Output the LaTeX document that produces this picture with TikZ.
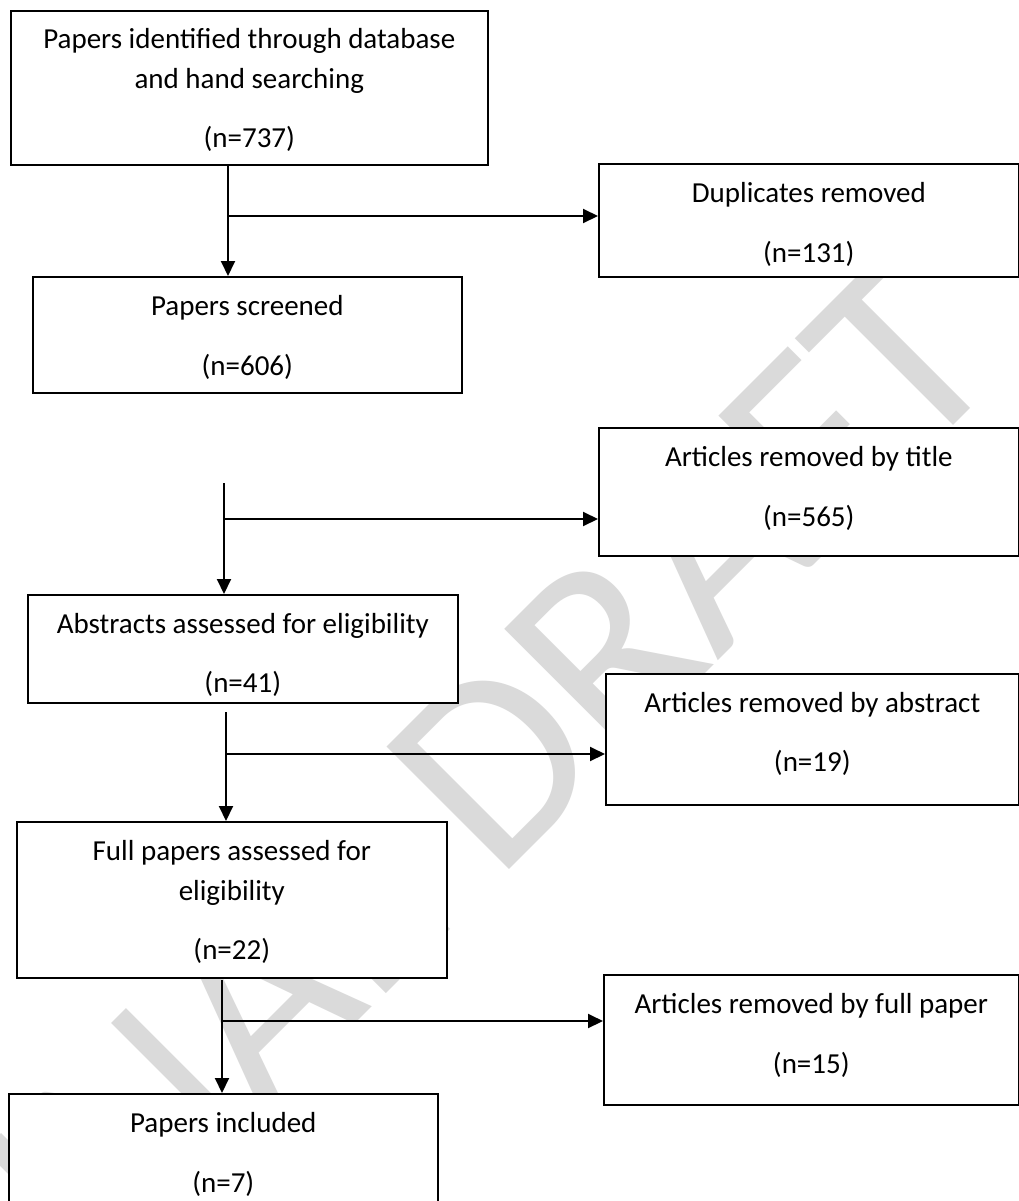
\documentclass[tikz,border=0pt]{standalone}
\usepackage{fontspec}
\setmainfont{Carlito}
\usetikzlibrary{arrows.meta}
\definecolor{wmgray}{HTML}{DADADA}
\begin{document}
\begin{tikzpicture}[x=1pt,y=-1pt,
  box/.style={draw=black, line width=1.6pt, fill=white, inner sep=0pt, anchor=north west},
  txt/.style={anchor=base, inner sep=0pt, font=\fontsize{29}{35}\selectfont},
  arr/.style={line width=2pt, -{Triangle[length=15pt,width=14pt]}},
  wmark/.style={rotate=45, text=wmgray, inner sep=0pt, font=\fontsize{270}{270}\selectfont}]
\useasboundingbox (0,0) rectangle (1019,1201);
\clip (0,0) rectangle (1019,1201);
\fill[white] (0,0) rectangle (1019,1201);
% watermark
\node[wmark] (wm) at (445,812) {FINAL DRAFT};
% boxes
\node[box, minimum width=477pt, minimum height=154pt] (b1) at (10,10) {};
\node[box, minimum width=420pt, minimum height=113pt] (d1) at (598,163) {};
\node[box, minimum width=429pt, minimum height=116pt] (b2) at (32,276) {};
\node[box, minimum width=420pt, minimum height=128pt] (t1) at (598,427) {};
\node[box, minimum width=430pt, minimum height=108pt] (b3) at (27,594) {};
\node[box, minimum width=413pt, minimum height=131pt] (a1) at (605,673) {};
\node[box, minimum width=430pt, minimum height=156pt] (b4) at (16,821) {};
\node[box, minimum width=415pt, minimum height=130pt] (f1) at (603,974) {};
\node[box, minimum width=429pt, minimum height=140pt] (b5) at (8,1093) {};
% texts
\node[txt] (b1a) at ([yshift=-39pt]b1.north) {Papers identified through database};
\node[txt] (b1b) at ([yshift=-79pt]b1.north) {and hand searching};
\node[txt] (b1c) at ([yshift=-138pt]b1.north) {(n=737)};
\node[txt] (d1a) at ([yshift=-39pt]d1.north) {Duplicates removed};
\node[txt] (d1b) at ([yshift=-99pt]d1.north) {(n=131)};
\node[txt] (b2a) at ([yshift=-39pt]b2.north) {Papers screened};
\node[txt] (b2b) at ([yshift=-99pt]b2.north) {(n=606)};
\node[txt] (t1a) at ([yshift=-39pt]t1.north) {Articles removed by title};
\node[txt] (t1b) at ([yshift=-99pt]t1.north) {(n=565)};
\node[txt] (b3a) at ([yshift=-39pt]b3.north) {Abstracts assessed for eligibility};
\begin{scope}
\clip (27,594) rectangle (457,695);
\node[txt] (b3b) at ([yshift=-98pt]b3.north) {(n=41)};
\end{scope}
\node[txt] (a1a) at ([yshift=-39pt]a1.north) {Articles removed by abstract};
\node[txt] (a1b) at ([yshift=-98pt]a1.north) {(n=19)};
\node[txt] (b4a) at ([yshift=-39pt]b4.north) {Full papers assessed for};
\node[txt] (b4b) at ([yshift=-79pt]b4.north) {eligibility};
\node[txt] (b4c) at ([yshift=-138pt]b4.north) {(n=22)};
\node[txt] (f1a) at ([yshift=-39pt]f1.north) {Articles removed by full paper};
\node[txt] (f1b) at ([yshift=-99pt]f1.north) {(n=15)};
\node[txt] (b5a) at ([yshift=-39pt]b5.north) {Papers included};
\node[txt] (b5b) at ([yshift=-99pt]b5.north) {(n=7)};
% connectors
\coordinate (j1) at (228,216);
\draw[arr] (j1 |- b1.south) -- (j1 |- b2.north);
\draw[arr] (j1) -- (j1 -| d1.west);
\coordinate (s2) at (224,483);
\coordinate (j2) at (224,519);
\draw[arr] (s2) -- (s2 |- b3.north);
\draw[arr] (j2) -- (j2 -| t1.west);
\coordinate (s3) at (226,712);
\coordinate (j3) at (226,754);
\draw[arr] (s3) -- (s3 |- b4.north);
\draw[arr] (j3) -- (j3 -| a1.west);
\coordinate (s4) at (222,980);
\coordinate (j4) at (222,1021);
\draw[arr] (s4) -- (s4 |- b5.north);
\draw[arr] (j4) -- (j4 -| f1.west);
\end{tikzpicture}
\end{document}
